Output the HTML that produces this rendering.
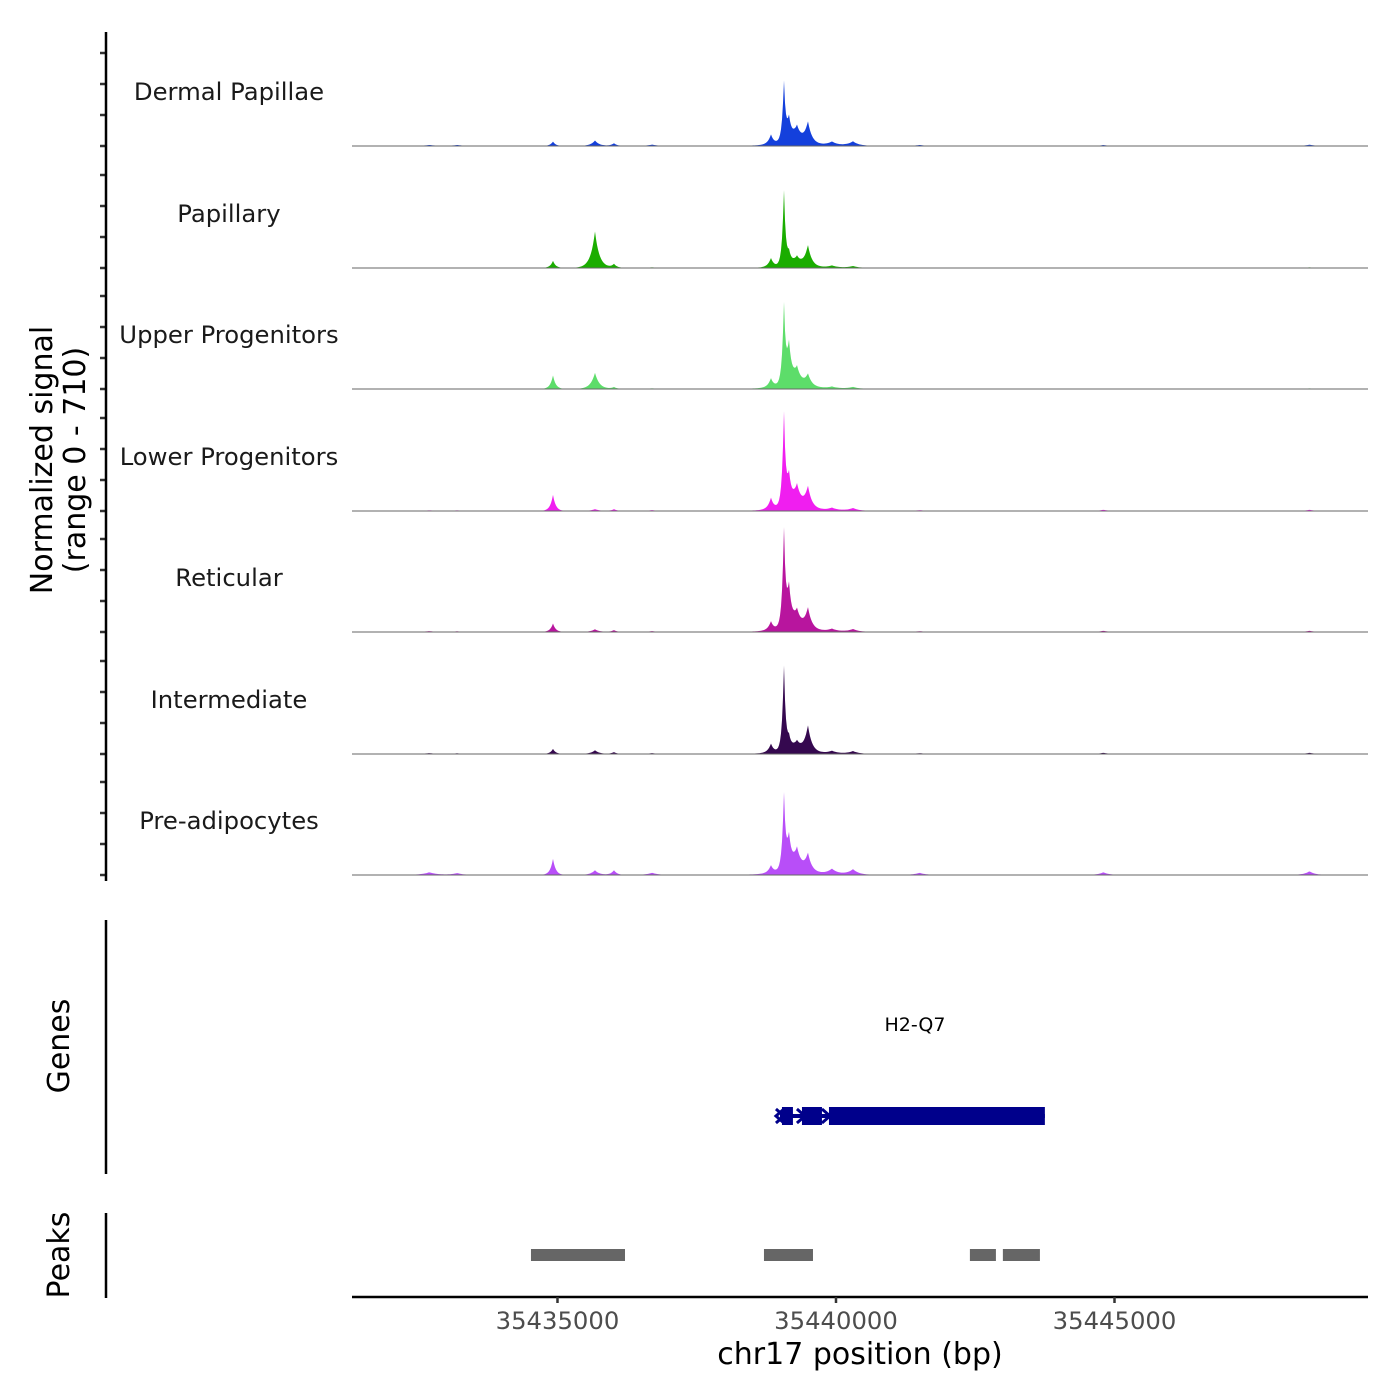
<!DOCTYPE html>
<html><head><meta charset="utf-8">
<style>
html,body{margin:0;padding:0;background:#fff;}
svg{display:block;font-family:"DejaVu Sans","Liberation Sans",sans-serif;}
</style></head>
<body>
<svg id="chart" width="1400" height="1400" viewBox="0 0 1400 1400"></svg>
<script>
// ---- data ----
const regionStart = 35431311;
const regionEnd = 35449551;
const yMax = 710;
const xTicks = [35435000, 35440000, 35445000];
const trackNames = ["Dermal Papillae","Papillary","Upper Progenitors","Lower Progenitors","Reticular","Intermediate","Pre-adipocytes"];
const trackColors = ["#1440dc","#1aad00","#5ddd6a","#f01ef0","#b8159e","#35084f","#b84ef8"];
// peak centres (bp) shared by tracks
const peakPos = [35434919,35435673,35436014,35438832,35439065,35439155,35439300,35439496,35439927,35440304,35439250,35432700,35444800,35448500,35441500,35436700,35433200];
const peakWidths = [70,110,80,80,45,80,120,100,150,150,500,200,140,140,160,160,160];
const dermalVals  = [26,32,16,60,350,130,85,125,22,26,25,6,6,8,6,8,6];
const papillaryVals=[42,215,22,55,450,70,50,125,13,11,12,3,3,4,3,4,3];
const upperVals   = [80,95,11,55,460,230,95,70,11,11,25,3,3,4,3,4,3];
const lowerVals   = [95,11,11,70,550,170,120,125,16,16,25,4,7,7,5,5,4];
const reticVals   = [50,16,11,55,570,230,95,125,16,16,25,5,7,7,5,5,4];
const interVals   = [30,22,11,55,510,70,50,155,16,16,20,5,7,7,5,5,4];
const preadVals   = [95,28,28,48,440,185,120,105,32,32,30,16,16,22,13,13,11];
const trackValues = [dermalVals,papillaryVals,upperVals,lowerVals,reticVals,interVals,preadVals];
// called peaks (bp)
const peakStarts = [35434524,35438707,35442404,35442996];
const peakEnds   = [35436212,35439587,35442871,35443661];
// gene
const geneStart = 35438994, geneEnd = 35443750;
const exonStarts=[35439030,35439389,35439874];
const exonEnds  =[35439227,35439748,35443750];

// ---- layout ----
const X0=352, X1=1368;
const x = bp => X0 + (bp-regionStart)/(regionEnd-regionStart)*(X1-X0);
const baselines=[146,268,389,511,632,754,875];
const trackH=121.5;
const y = (v,b) => b - v/yMax*trackH;
const NS="http://www.w3.org/2000/svg";
const svg=document.getElementById('chart');
function mk(tag,attrs,parent){const e=document.createElementNS(NS,tag);for(const k in attrs)e.setAttribute(k,attrs[k]);(parent||svg).appendChild(e);return e;}

trackNames.forEach((name,i)=>{
  const g=mk('g',{});
  
  
  const b=baselines[i];
  const vals=trackValues[i];
  let d=`M${X0},${b}`;
  for(let px=X0;px<=X1;px+=1){
    const bp=regionStart+(px-X0)/(X1-X0)*(regionEnd-regionStart);
    let v=0;
    for(let k=0;k<peakPos.length;k++){const dd=Math.abs(bp-peakPos[k])/peakWidths[k];v+=vals[k]*Math.exp(-dd*1.4);}
    d+=` L${px},${y(v,b).toFixed(2)}`;
  }
  d+=` L${X1},${b} Z`;
  const p=mk('path',{d:d,fill:trackColors[i]},g);
  
  
  const bl=mk('line',{x1:X0,x2:X1,y1:b,y2:b,stroke:'#666','stroke-width':1},g);
  
  
  const t=mk('text',{x:229,y:b-46,'font-size':24.3,'text-anchor':'middle',fill:'#1a1a1a'},g);
  t.textContent=name;
  
  
  for(let k=0;k<4;k++){
    const tk=mk('line',{x1:100,x2:106,y1:b-k*31,y2:b-k*31,stroke:'#333','stroke-width':2.5});
    
    
  }
});
let a=mk('line',{x1:106,x2:106,y1:32,y2:881,stroke:'#000','stroke-width':2.5});

let yt=mk('text',{transform:'translate(52,460) rotate(-90)','font-size':30,'text-anchor':'middle',fill:'#000'});
yt.innerHTML='<tspan x="0" dy="0">Normalized signal</tspan><tspan x="0" dy="33">(range 0 - 710)</tspan>';


// genes
a=mk('line',{x1:106,x2:106,y1:920,y2:1174,stroke:'#000','stroke-width':2.5});

let gl=mk('text',{transform:'translate(69,1046) rotate(-90)','font-size':30,'text-anchor':'middle'});gl.textContent='Genes';

let gn=mk('text',{x:915,y:1031,'font-size':19,'text-anchor':'middle'});gn.textContent='H2-Q7';

const gg=mk('g',{fill:'#00008b'});

mk('rect',{x:x(geneStart),y:1114,width:x(geneEnd)-x(geneStart),height:4},gg);
exonStarts.forEach((s,i)=>{const r=mk('rect',{x:x(s),y:1107,width:x(exonEnds[i])-x(s),height:18},gg);
 });
mk('path',{d:`M${x(geneStart)-4},1109 l8,7 l-8,7 M${x(geneStart)+4},1109 l-8,7 l8,7 M${x(exonEnds[0])+4},1109 l8,7 l-8,7 M${x(exonEnds[1])},1109 l8,7 l-8,7`,stroke:'#00008b','stroke-width':3,fill:'none'},gg);

// peaks
a=mk('line',{x1:106,x2:106,y1:1213,y2:1298,stroke:'#000','stroke-width':2.5});

let pl=mk('text',{transform:'translate(69,1255) rotate(-90)','font-size':30,'text-anchor':'middle'});pl.textContent='Peaks';

peakStarts.forEach((s,i)=>{const r=mk('rect',{x:x(s),y:1249,width:x(peakEnds[i])-x(s),height:12,fill:'#666'});
 });

// x axis
a=mk('line',{x1:X0,x2:X1,y1:1297,y2:1297,stroke:'#000','stroke-width':2.5});

xTicks.forEach(t=>{
  const l=mk('line',{x1:x(t),x2:x(t),y1:1297,y2:1303,stroke:'#333','stroke-width':2.5});
  
  const tx=mk('text',{x:x(t),y:1329,'font-size':24.3,'text-anchor':'middle',fill:'#4d4d4d'});tx.textContent=t;
  
});
let xt=mk('text',{x:860,y:1364,'font-size':30,'text-anchor':'middle'});xt.textContent='chr17 position (bp)';

</script>
</body></html>
